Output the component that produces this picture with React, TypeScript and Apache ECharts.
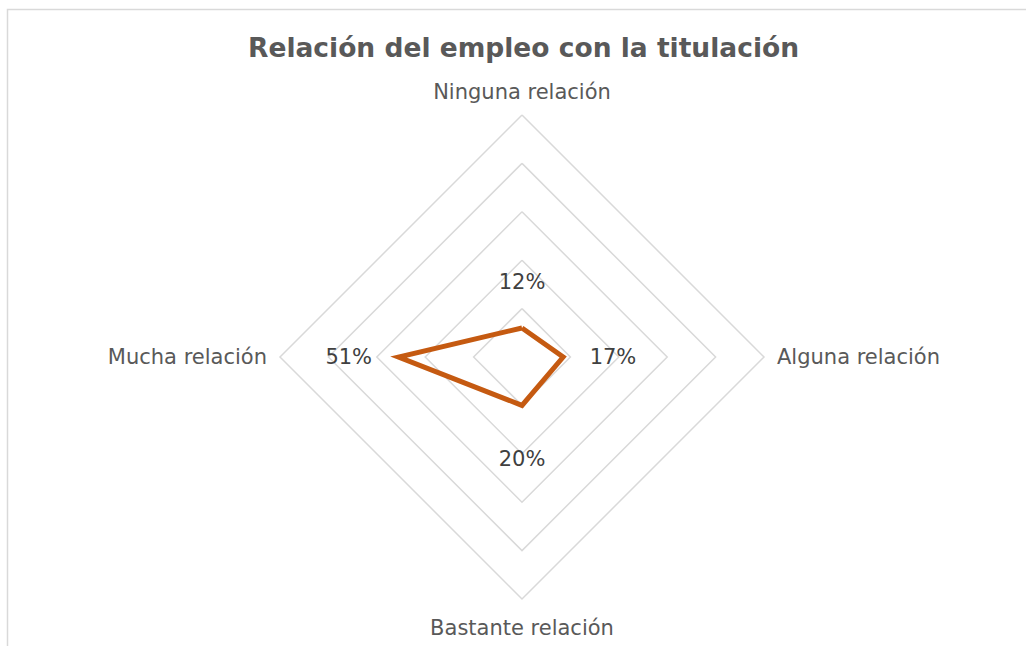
import React, { useEffect, useRef } from "react";
import * as echarts from "echarts";

// Indicators in ECharts radar order (counter-clockwise from top)
const categories = ["Ninguna relación", "Mucha relación", "Bastante relación", "Alguna relación"];
const values = [12, 51, 20, 17];
const labelPositions = ["top", "left", "bottom", "right"];
const labelDistances = [35, 26, 43, 26];
const maxValue = 100;
const title = "Relación del empleo con la titulación";

export default function App() {
  const ref = useRef<HTMLDivElement>(null);
  useEffect(() => {
    if (!ref.current) return;
    const chart = echarts.init(ref.current, undefined, { renderer: "svg" });
    const labelItems = values.map((v, i) => ({
      value: values,
      symbol: "circle",
      symbolSize: 1,
      itemStyle: { color: "transparent" },
      lineStyle: { opacity: 0 },
      label: {
        show: true,
        position: labelPositions[i],
        distance: labelDistances[i],
        fontFamily: "DejaVu Sans",
        fontSize: 21,
        color: "#404040",
        formatter: (p: any) => (p.value === v ? v + "%" : ""),
      },
    }));
    chart.setOption({
      animation: false,
      backgroundColor: "#ffffff",
      title: {
        text: title,
        left: 248,
        top: 34,
        padding: 0,
        textStyle: {
          fontFamily: "DejaVu Sans",
          fontWeight: "bold",
          fontSize: 26.5,
          color: "#595959",
        },
      },
      graphic: [
        {
          type: "polyline",
          shape: { points: [[7.5, 646], [7.5, 9.5], [1026, 9.5]] },
          style: { stroke: "#D9D9D9", lineWidth: 1.5, fill: "none" },
          silent: true,
        },
      ],
      radar: {
        center: [522, 357],
        radius: 242,
        shape: "polygon",
        splitNumber: 5,
        startAngle: 90,
        indicator: categories.map((c) => ({ name: c, min: 0, max: maxValue })),
        nameGap: 13,
        axisName: {
          color: "#595959",
          fontFamily: "DejaVu Sans",
          fontSize: 21,
          formatter: (name: string) =>
            name === categories[2] ? "{b|" + name + "}" : name,
          rich: {
            b: {
              color: "#595959",
              fontFamily: "DejaVu Sans",
              fontSize: 21,
              padding: [5, 0, 0, 0],
            },
          },
        },
        axisLine: { show: false },
        axisTick: { show: false },
        axisLabel: { show: false },
        splitArea: { show: false },
        splitLine: { lineStyle: { color: "#D9D9D9", width: 1.5 } },
      },
      series: [
        {
          type: "radar",
          symbol: "none",
          data: [
            {
              value: values,
              lineStyle: { color: "#C55A11", width: 5, join: "miter" },
              symbol: "none",
            },
            ...labelItems,
          ],
        },
      ],
    });
    return () => chart.dispose();
  }, []);
  return (
    <div
      ref={ref}
      style={{ position: "fixed", left: 0, top: 0, width: 1026, height: 646 }}
    />
  );
}
